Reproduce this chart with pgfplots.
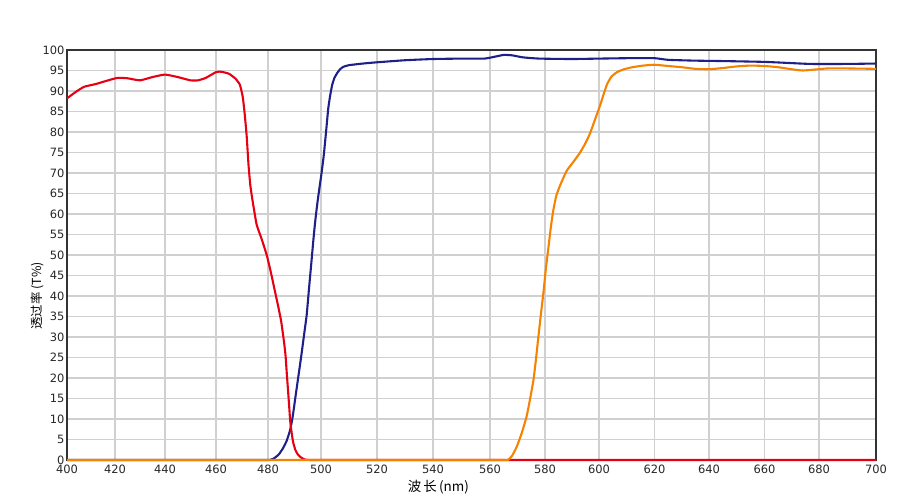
\documentclass[border=0pt]{standalone}
\usepackage{fontspec}
\setmainfont{DejaVu Sans}
\newfontfamily\cjk{Noto Sans CJK SC}
\usepackage{pgfplots}
\pgfplotsset{compat=1.18}
\definecolor{cred}{RGB}{230,0,18}
\definecolor{cblue}{RGB}{30,32,135}
\definecolor{corange}{RGB}{245,130,0}
\definecolor{cgrid}{RGB}{208,208,208}
\begin{document}
\begin{tikzpicture}
\useasboundingbox (0bp,0bp) rectangle (905bp,501bp);
\begin{axis}[
  at={(67bp,41bp)}, anchor=south west,
  scale only axis, width=809bp, height=410bp,
  x coord trafo/.code={\pgfmathparse{67+2.4*min(max(#1-400,0),20)+2.5*min(max(#1-420,0),20)+2.55*min(max(#1-440,0),20)+2.6*min(max(#1-460,0),20)+2.65*min(max(#1-480,0),20)+2.8*min(max(#1-500,0),20)+2.8*min(max(#1-520,0),20)+2.85*min(max(#1-540,0),20)+2.75*min(max(#1-560,0),20)+2.7*min(max(#1-580,0),20)+2.775*min(max(#1-600,0),20)+2.725*min(max(#1-620,0),20)+2.775*min(max(#1-640,0),20)+2.725*min(max(#1-660,0),20)+2.85*min(max(#1-680,0),20)}},
  xmin=400, xmax=700, ymin=0, ymax=100,
  clip=false,
  xtick={400,420,440,460,480,500,520,540,560,580,600,620,640,660,680,700},
  xticklabels={400,420,440,460,480,500,520,540,560,580,600,620,640,660,680,700},
  ytick={0,5,...,100},
  grid=major,
  major grid style={draw=cgrid, line width=1.1pt},
  major tick length=0pt,
  axis line style={draw=black!80, line width=1.4pt},
  tick label style={font=\fontsize{11.5}{13}\selectfont, text=black!85},
  /pgf/number format/assume math mode=true,
  xticklabel style={yshift=-1bp},
  yticklabel style={xshift=1bp},
  xlabel={\cjk 波\,长\,(nm)},
  xlabel style={font=\fontsize{13.5}{15}\selectfont, at={(axis description cs:0.459,0)}, anchor=center, yshift=-27bp},
  ylabel={\cjk 透过率 (T\%)},
  ylabel style={font=\fontsize{12.5}{15}\selectfont, at={(axis description cs:-0.037,0.40)}, anchor=center, rotate=0},
  every axis plot/.append style={line width=2.1pt, line join=round, smooth, tension=0.3},
]
\addplot[cblue] coordinates {
(400,0) (420,0) (440,0) (460,0) (470,0) (476,0) (479,0) (480.5,0) (482,0.3) (484,1.3) (485.6,2.8) (487,4.6) (488.3,7.2) (489.3,10.5) (490.6,16.5)
(491.7,21.5) (492.6,25.6) (493.6,30.5) (494.6,35.4) (495.5,42) (496.4,48.4) (497.1,53.5)
(497.8,58.1) (498.6,62.5) (499.4,66.3) (500.2,70) (501,74.4) (501.8,80) (502.6,85.8)
(503.3,89) (504,91.5) (504.8,93.2) (505.8,94.4) (506.8,95.3) (508,95.9) (510,96.3)
(515,96.7) (520,97.0) (530,97.5) (540,97.8) (550,97.9) (558,97.9) (562,98.4) (565,98.8)
(568,98.7) (572,98.2) (578,97.9) (590,97.8) (600,97.9) (610,98.0) (620,98.0) (625,97.6)
(635,97.4) (645,97.3) (660,97.1) (670,96.8) (677,96.6) (690,96.6) (700,96.7)
};
\addplot[cred] coordinates {
(400,88.2) (403,89.5) (407,91.0) (412,91.7) (416,92.4) (421,93.2) (425,93.1) (430,92.6)
(435,93.4) (440,94.0) (445,93.4) (450,92.6) (453,92.6) (456,93.2) (460,94.6) (462,94.7)
(465,94.2) (467.5,93.0) (469.2,91.5) (470.3,88.5) (471,84.6) (471.8,79) (472.5,72)
(473.2,67) (474,63.5) (475.6,57.5) (477.5,54) (479.5,50) (481,46) (482.5,41.5) (484,37)
(485,33.7) (486,29) (486.6,25.6) (487.1,21) (487.5,17.5) (488,13) (488.4,9.3) (489,6.3)
(489.5,4.3) (490.3,2.5) (491.3,1.3) (492.5,0.6) (494,0.1) (496,0) (499,0) (504,0) (515,0)
(540,0) (570,0) (600,0) (630,0) (660,0) (700,0)
};
\addplot[corange] coordinates {
(400,0) (430,0) (460,0) (490,0) (520,0) (545,0) (556,0) (562,0) (565,0) (566.5,0) (568,1) (569.7,3.2) (571.5,6.5) (573.3,10.6) (574.6,15) (575.8,19.5)
(576.7,24.5) (577.6,30.1) (578.5,35.5) (579.4,40.7) (580.3,46.5) (581.3,52) (582.2,57)
(583.1,61) (584.2,64.5) (585.6,67) (588,70.5) (590.5,72.7) (593,75) (595,77.3)
(596.7,79.7) (598.5,83) (600.4,86.5) (601.8,89.5) (603,91.8) (604.5,93.5) (606.5,94.6)
(609,95.3) (612,95.8) (616,96.2) (620,96.4) (625,96.1) (630,95.8) (635,95.4) (640,95.3)
(645,95.6) (650,96.0) (655,96.2) (660,96.1) (665,95.8) (670,95.3) (674,95.0) (678,95.2)
(683,95.5) (690,95.5) (700,95.4)
};
\end{axis}
\end{tikzpicture}
\end{document}
